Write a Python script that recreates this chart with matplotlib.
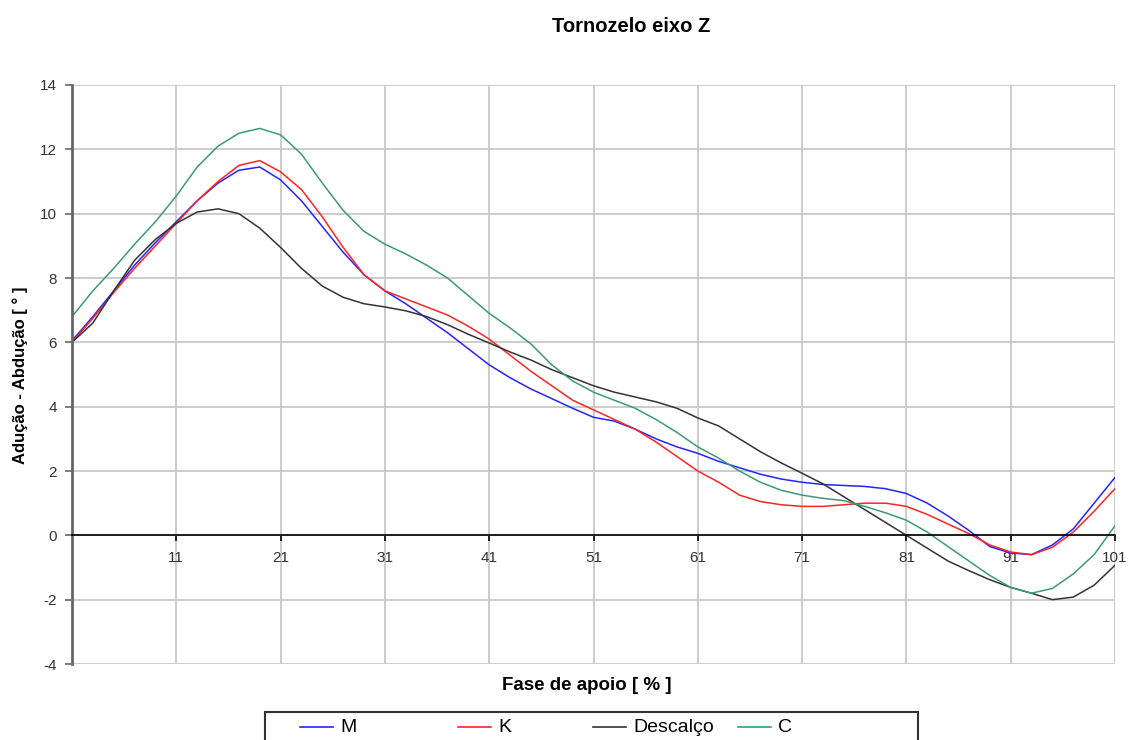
import numpy as np
import matplotlib.pyplot as plt
from matplotlib.lines import Line2D
from matplotlib.patches import Rectangle

# fase de apoio (%)
fase = list(range(1, 102, 2))

m_vals = [6.05, 6.8, 7.6, 8.4, 9.1, 9.75, 10.4, 10.95, 11.35, 11.45,
          11.05, 10.4, 9.6, 8.8, 8.1, 7.6, 7.2, 6.75, 6.3, 5.8,
          5.3, 4.9, 4.55, 4.25, 3.95, 3.67, 3.55, 3.3, 3.0, 2.75,
          2.55, 2.3, 2.1, 1.9, 1.75, 1.65, 1.58, 1.55, 1.52, 1.45,
          1.3, 1.0, 0.6, 0.15, -0.35, -0.55, -0.6, -0.3, 0.2, 1.0, 1.8]

k_vals = [6.0, 6.75, 7.55, 8.3, 9.0, 9.7, 10.4, 11.0, 11.5, 11.65,
          11.3, 10.75, 9.9, 8.95, 8.1, 7.6, 7.35, 7.1, 6.85, 6.5,
          6.1, 5.6, 5.1, 4.65, 4.2, 3.9, 3.6, 3.3, 2.9, 2.45,
          2.0, 1.65, 1.25, 1.05, 0.95, 0.9, 0.9, 0.95, 1.0, 1.0,
          0.9, 0.65, 0.35, 0.05, -0.3, -0.52, -0.6, -0.37, 0.1, 0.75, 1.45]

descalco_vals = [6.0, 6.6, 7.6, 8.55, 9.2, 9.7, 10.05, 10.15, 10.0, 9.55,
                 8.95, 8.3, 7.75, 7.4, 7.2, 7.1, 6.98, 6.8, 6.55, 6.25,
                 5.98, 5.7, 5.45, 5.15, 4.9, 4.65, 4.45, 4.3, 4.15, 3.95,
                 3.65, 3.4, 3.0, 2.6, 2.25, 1.93, 1.6, 1.2, 0.8, 0.4,
                 0.0, -0.4, -0.8, -1.1, -1.38, -1.62, -1.8, -2.0, -1.92, -1.55, -0.93]

c_vals = [6.8, 7.6, 8.3, 9.05, 9.75, 10.55, 11.45, 12.1, 12.5, 12.65,
          12.45, 11.85, 10.95, 10.1, 9.45, 9.05, 8.75, 8.4, 8.0, 7.45,
          6.9, 6.45, 5.95, 5.3, 4.8, 4.45, 4.2, 3.95, 3.6, 3.2,
          2.75, 2.4, 2.0, 1.65, 1.4, 1.25, 1.15, 1.08, 0.9, 0.7,
          0.47, 0.1, -0.35, -0.8, -1.25, -1.62, -1.8, -1.65, -1.2, -0.6, 0.3]

series_names = ['M', 'K', 'Descalço', 'C']
series_colors = ['#2424ff', '#ff2424', '#333333', '#3c9a72']

x_ticks = list(range(11, 102, 10))
y_ticks = list(range(-4, 15, 2))

plt.rcParams['font.family'] = ['Liberation Sans', 'DejaVu Sans']
plt.rcParams['axes.unicode_minus'] = False

fig = plt.figure(figsize=(11.29, 7.40), dpi=100)
ax = fig.add_axes([72 / 1129, 1 - 664 / 740, (1115 - 72) / 1129, (664 - 85) / 740])

all_vals = [m_vals, k_vals, descalco_vals, c_vals]
for vals, name, col in zip(all_vals, series_names, series_colors):
    ax.plot(fase, vals, color=col, lw=1.1, label=name)

ax.set_xlim(1, 101)
ax.set_ylim(-4, 14)
ax.set_xticks(x_ticks)
ax.set_yticks(y_ticks)
ax.grid(True, color='#c8c8c8', lw=1.3)
ax.set_axisbelow(True)

# eixo x cruza em zero
ax.spines['bottom'].set_position(('data', 0))
ax.spines['bottom'].set_color('black')
ax.spines['bottom'].set_linewidth(1.2)
ax.spines['bottom'].set_zorder(2.5)
ax.spines['top'].set_visible(False)
ax.spines['right'].set_visible(False)
ax.spines['left'].set_color('#666666')
ax.spines['left'].set_linewidth(2)
ax.tick_params(axis='x', direction='out', length=4, width=1.2, color='black',
               labelsize=11, labelcolor='#333333', pad=7)
ax.tick_params(axis='y', direction='out', length=5, width=1.2, color='#666666',
               labelsize=11, labelcolor='#333333', pad=6)

fig.text(631 / 1129, 1 - 27 / 740, 'Tornozelo eixo Z', ha='center', va='center',
         fontsize=14.5, fontweight='bold')
fig.text(587 / 1129, 1 - 685 / 740, 'Fase de apoio [ % ]', ha='center', va='center',
         fontsize=13.5, fontweight='bold')
fig.text(20 / 1129, 1 - 375 / 740, 'Adução - Abdução [ ° ]', ha='center', va='center',
         rotation=90, fontsize=12, fontweight='bold')

# legenda (caixa estilo Excel, cortada embaixo)
W, H = 1129, 740
fig.add_artist(Rectangle((265 / W, 1 - 760 / H), (918 - 265) / W, 48 / H,
                         transform=fig.transFigure, facecolor='white',
                         edgecolor='#333333', lw=1.5))
handle_x = [300, 458, 593, 738]
for hx, name, col in zip(handle_x, series_names, series_colors):
    yy = 1 - 727 / H
    fig.add_artist(Line2D([hx / W, (hx + 33) / W], [yy, yy], color=col, lw=1.2,
                          transform=fig.transFigure))
    fig.text((hx + 40) / W, yy, name, ha='left', va='center', fontsize=14)

plt.savefig('out.png', dpi=100)
